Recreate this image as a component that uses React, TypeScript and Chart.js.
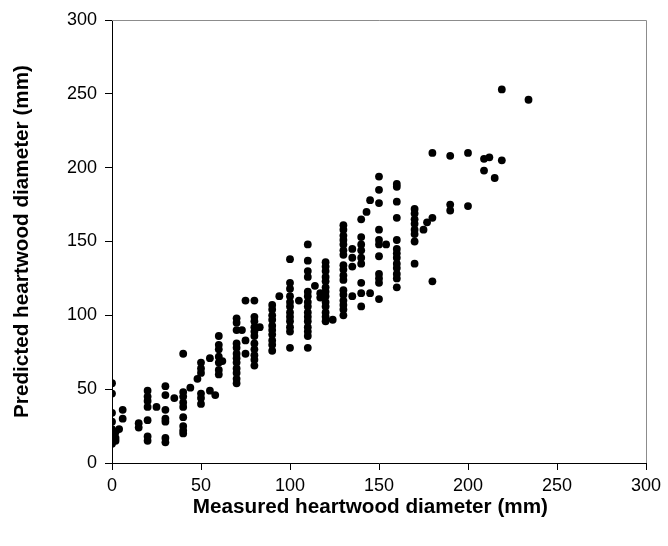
import { useEffect, useRef } from "react";
import { Chart, registerables } from "chart.js";

Chart.register(...registerables);

const xTitle = "Measured heartwood diameter (mm)   ";
const yTitle = "Predicted heartwood diameter (mm)";
const axisMin = 0;
const axisMax = 300;
const axisStep = 50;

// measured diameter of each column of points
const measuredColumns = [
  0, 2, 4, 6, 15, 20, 25, 30, 35, 40, 44, 48, 50, 55, 58, 60, 62, 70, 73, 75, 80, 83, 90, 94, 100,
  105, 110, 114, 117, 120, 124, 130, 135, 140, 143, 145, 150, 154, 160, 170, 175, 177, 180, 190,
  200, 209, 212, 215, 219, 234,
];

// predicted diameters for each measured column
const predictedColumns = [
  [54, 47, 34, 28, 23, 21, 19, 17, 15, 13],
  [21, 17, 15],
  [23],
  [36, 30],
  [27, 24],
  [49, 45, 42, 38, 29, 18, 15],
  [38],
  [52, 46, 36, 30, 28, 17, 14],
  [44],
  [74, 48, 45, 41, 38, 31, 25, 22, 20],
  [51],
  [57],
  [68, 64, 61, 47, 44, 40],
  [71, 49],
  [46],
  [86, 80, 77, 72, 68, 63, 60],
  [69],
  [98, 95, 90, 81, 78, 74, 71, 68, 64, 61, 57, 54],
  [90],
  [110, 83, 74],
  [110, 99, 96, 92, 89, 86, 81, 77, 73, 70, 66],
  [92],
  [107, 104, 100, 97, 93, 90, 87, 83, 80, 76],
  [113],
  [138, 122, 118, 113, 109, 106, 102, 99, 96, 92, 89, 78],
  [110],
  [148, 137, 130, 126, 116, 113, 109, 106, 102, 99, 96, 92, 89, 86, 78],
  [120],
  [115, 112],
  [136, 133, 130, 126, 123, 119, 116, 113, 109, 106, 102, 99, 96],
  [97],
  [161, 158, 154, 151, 148, 144, 141, 134, 131, 127, 124, 117, 114, 110, 107, 104, 100],
  [145, 139, 133, 113],
  [165, 153, 148, 144, 139, 135, 122, 115, 106],
  [170],
  [178, 115],
  [194, 185, 176, 158, 151, 148, 140, 128, 125, 122, 111],
  [148],
  [189, 187, 177, 166, 151, 145, 142, 139, 135, 132, 128, 125, 119],
  [172, 169, 165, 162, 158, 155, 150, 135],
  [158],
  [163],
  [210, 166, 123],
  [208, 175, 171],
  [210, 174],
  [206, 198],
  [207],
  [193],
  [253, 205],
  [246],
];

const FONT = "'Liberation Sans', Arial, Helvetica, sans-serif";

const boxPlugin = {
  id: "plotBox",
  beforeDatasetsDraw(chart: any) {
    const { ctx, chartArea } = chart;
    ctx.save();
    ctx.strokeStyle = "#8c8c8c";
    ctx.lineWidth = 1;
    ctx.beginPath();
    ctx.moveTo(chartArea.left, chartArea.top + 0.5);
    ctx.lineTo(chartArea.right + 0.5, chartArea.top + 0.5);
    ctx.lineTo(chartArea.right + 0.5, chartArea.bottom);
    ctx.stroke();
    ctx.restore();
  },
};

export default function App() {
  const canvasRef = useRef<HTMLCanvasElement | null>(null);

  useEffect(() => {
    if (!canvasRef.current) return;
    const points: { x: number; y: number }[] = [];
    measuredColumns.forEach((mx, i) => {
      predictedColumns[i].forEach((py) => points.push({ x: mx, y: py }));
    });

    const scaleCommon = (title: string, isX: boolean) => ({
      type: "linear" as const,
      min: axisMin,
      max: axisMax,
      ticks: {
        stepSize: axisStep,
        color: "#000",
        font: { family: FONT, size: 18 },
        padding: isX ? 5 : 8,
      },
      grid: {
        display: true,
        drawOnChartArea: false,
        drawTicks: true,
        tickLength: 7,
        color: "#000",
      },
      border: { display: true, color: "#000", width: 1 },
      title: {
        display: true,
        text: title,
        color: "#000",
        font: { family: FONT, size: 20.7, weight: "bold" as const },
        padding: isX ? { top: 0, bottom: 26 } : { top: 10, bottom: 0 },
      },
    });

    const chart = new Chart(canvasRef.current, {
      type: "scatter",
      data: {
        datasets: [
          {
            data: points,
            backgroundColor: "#000",
            borderColor: "#000",
            borderWidth: 0,
            pointRadius: 3.9,
            pointHoverRadius: 3.9,
          },
        ],
      },
      options: {
        animation: false,
        responsive: false,
        layout: { padding: { top: 20, right: 22, left: 0, bottom: 0 } },
        plugins: { legend: { display: false }, tooltip: { enabled: false } },
        scales: {
          x: {
            ...scaleCommon(xTitle, true),
            afterFit: (s: any) => {
              s.height = 83;
            },
          },
          y: {
            ...scaleCommon(yTitle, false),
            afterFit: (s: any) => {
              s.width = 112;
            },
          },
        },
      },
      plugins: [boxPlugin],
    });
    return () => chart.destroy();
  }, []);

  return (
    <div style={{ position: "absolute", left: 0, top: 0, width: 668, height: 546, background: "#fff" }}>
      <canvas ref={canvasRef} width={668} height={546} style={{ display: "block" }} />
    </div>
  );
}
